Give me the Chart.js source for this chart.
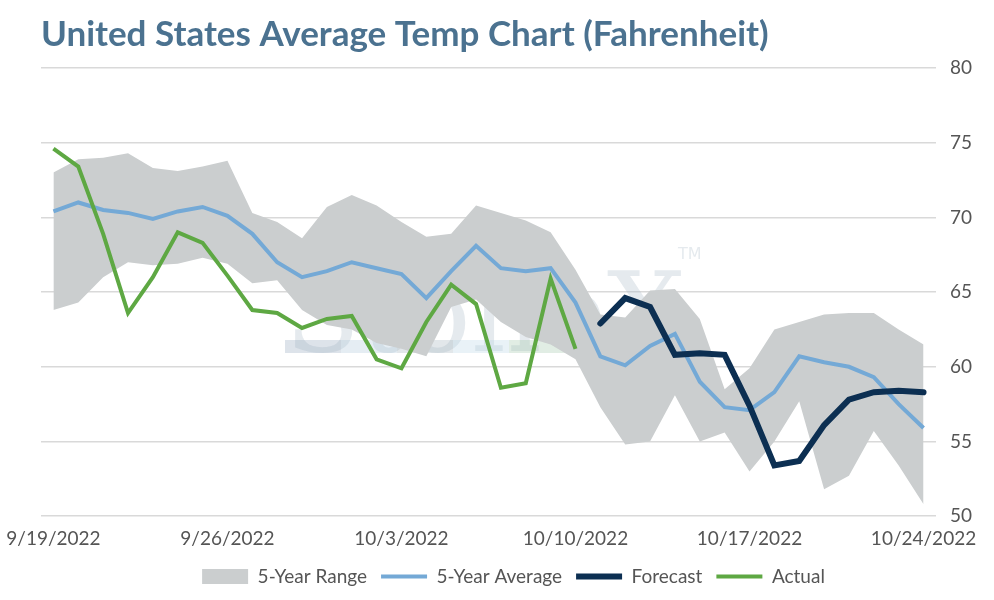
<!DOCTYPE html>
<html>
<head>
<meta charset="utf-8">
<script src="https://cdn.jsdelivr.net/npm/chart.js@4.4.0/dist/chart.umd.min.js"></script>
<style>
  html, body { margin: 0; padding: 0; background: #fff; }
  #wrap { width: 994px; height: 600px; }
</style>
</head>
<body>
<div id="wrap"><canvas id="chart"></canvas></div>
<script>
// ----- DATA -----
const startDate = new Date(2022, 8, 19);
const days = [];
for (let i = 0; i < 36; i++) {
  const d = new Date(startDate.getTime() + i * 86400000);
  days.push((d.getMonth() + 1) + "/" + d.getDate() + "/" + d.getFullYear());
}

const rangeLow = [63.8, 64.3, 66.0, 67.0, 66.8, 66.9, 67.3, 66.9, 65.6, 65.8, 63.8, 62.8,
  62.5, 61.6, 61.2, 60.7, 64.0, 64.5, 63.0, 62.0, 61.5, 60.5, 57.3, 54.8,
  55.0, 58.1, 55.0, 55.6, 53.0, 55.0, 57.7, 51.8, 52.7, 55.7, 53.4, 50.8];
const rangeHigh = [73.0, 73.9, 74.0, 74.3, 73.3, 73.1, 73.4, 73.8, 70.3, 69.7, 68.6, 70.7,
  71.5, 70.8, 69.7, 68.7, 68.9, 70.8, 70.3, 69.8, 69.0, 66.5, 63.5, 63.3,
  65.1, 65.2, 63.2, 58.5, 59.9, 62.5, 63.0, 63.5, 63.6, 63.6, 62.5, 61.5];
const average = [70.4, 71.0, 70.5, 70.3, 69.9, 70.4, 70.7, 70.1, 68.9, 67.0, 66.0, 66.4,
  67.0, 66.6, 66.2, 64.6, 66.4, 68.1, 66.6, 66.4, 66.6, 64.3, 60.7, 60.1,
  61.4, 62.2, 59.0, 57.3, 57.1, 58.3, 60.7, 60.3, 60.0, 59.3, 57.5, 55.9];
const actual = [74.6, 73.4, 68.9, 63.6, 66.0, 69.0, 68.3, 66.1, 63.8, 63.6, 62.6, 63.2,
  63.4, 60.5, 59.9, 63.0, 65.5, 64.2, 58.6, 58.9, 65.9, 61.2];
const forecast = [null, null, null, null, null, null, null, null, null, null, null, null,
  null, null, null, null, null, null, null, null, null, null, 62.9, 64.6,
  64.0, 60.8, 60.9, 60.8, 57.4, 53.4, 53.7, 56.1, 57.8, 58.3, 58.4, 58.3];

// ----- WATERMARK -----
const watermark = {
  id: "watermark",
  beforeDatasetsDraw(chart) {
    const ctx = chart.ctx;
    ctx.save();
    ctx.globalAlpha = 0.3;
    ctx.fillStyle = "#a9b8c8";
    ctx.font = "110px 'DejaVu Serif', serif";
    ctx.fillText("StoneX", 285, 322);
    ctx.font = "16px 'DejaVu Sans'";
    ctx.fillText("TM", 678, 255);
    const cols = ["#8fa3b8", "#a9c2d8", "#9fb0b8", "#b7d3e3", "#9cc2a4", "#eee7a8", "#d6b9bd"];
    cols.forEach((c, i) => { ctx.fillStyle = c; ctx.fillRect(285 + i * 56, 340, 56, 13); });
    ctx.restore();
  }
};

// ----- CHART -----
new Chart(document.getElementById("chart"), {
  type: "line",
  data: {
    labels: days,
    datasets: [
      { label: "low", data: rangeLow, borderWidth: 0, pointRadius: 0, fill: false, borderColor: "rgba(0,0,0,0)", order: 10 },
      { label: "5-Year Range", data: rangeHigh, borderWidth: 0, pointRadius: 0, fill: "-1", order: 9,
        backgroundColor: "#cbcecf", borderColor: "#cbcecf", pointStyle: "rect" },
      { label: "5-Year Average", data: average, borderColor: "#74a9d6", borderWidth: 4, pointRadius: 0, pointStyle: "line", order: 3 },
      { label: "Forecast", data: forecast, borderColor: "#0c2f52", borderWidth: 6, pointRadius: 0, pointStyle: "line", borderCapStyle: "round", order: 1 },
      { label: "Actual", data: actual, borderColor: "#5ea843", borderWidth: 4, pointRadius: 0, pointStyle: "line", order: 2 }
    ]
  },
  options: {
    responsive: true,
    maintainAspectRatio: false,
    animation: false,
    layout: { padding: { left: 41, right: 8, top: 0, bottom: 4 } },
    plugins: {
      title: {
        display: true, text: "United States Average Temp Chart (Fahrenheit)", align: "start",
        color: "#4b7290", font: { family: "Lato", size: 35, weight: "bold" },
        padding: { top: 14, bottom: 12 }
      },
      legend: {
        position: "bottom",
        labels: {
          usePointStyle: true, pointStyleWidth: 46, boxHeight: 15, padding: 14,
          color: "#555", font: { family: "Lato", size: 19 },
          filter: (item) => item.text !== "low",
          sort: (a, b) => a.datasetIndex - b.datasetIndex
        }
      },
      tooltip: { enabled: false }
    },
    scales: {
      x: {
        offset: true,
        grid: { display: false },
        border: { display: false },
        ticks: {
          autoSkip: false, maxRotation: 0, color: "#555", font: { family: "Lato", size: 19 },
          callback: (v, i) => (i % 7 === 0 ? days[i] : "")
        }
      },
      y: {
        position: "right", min: 50, max: 80,
        grid: { color: "#d9d9d9", lineWidth: 1.5, drawTicks: false },
        border: { display: false },
        ticks: { stepSize: 5, padding: 14, color: "#555", font: { family: "Lato", size: 19 } }
      }
    }
  },
  plugins: [watermark]
});
</script>
</body>
</html>
